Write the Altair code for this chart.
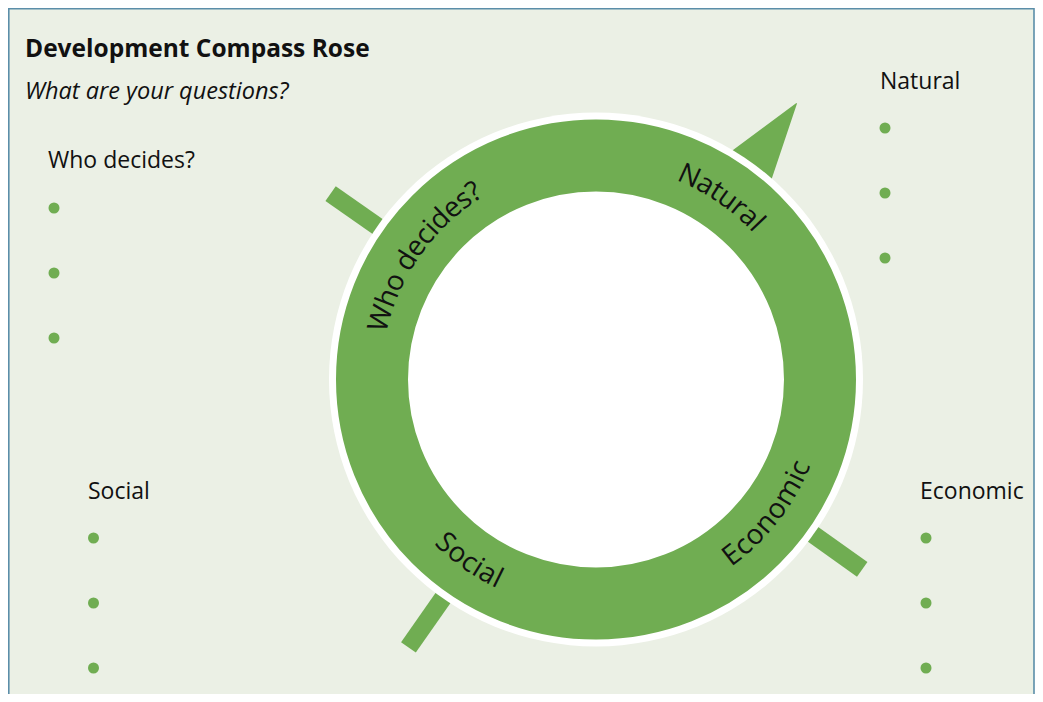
import math
import altair as alt
import pandas as pd

# ---------------- data ----------------
TITLE = "Development Compass Rose"
SUBTITLE = "What are your questions?"

DIRECTIONS = ["Natural", "Economic", "Social", "Who decides?"]
POINTER_BEARING = [36, 125.5, 215, 305]          # compass bearing of each pointer (deg)
POINTER_KIND = ["arrow", "bar", "bar", "bar"]
POINTER_REACH = [341, 327, 327, 324]              # outer end of pointer (px from centre)

RING_LABEL_BEARING = [34.5, 128, 215, 305.5]      # centre bearing of curved labels
RING_LABEL_DIR = ["cw", "ccw", "ccw", "cw"]      # reading direction along the ring

LIST_LABEL_X = [880, 920, 88, 48]
LIST_LABEL_Y = [89, 499, 499, 168]
BULLET_X = [885, 926, 93.5, 54]
BULLET_Y0 = [128, 538, 538, 208]
BULLETS_PER_LIST = 3
BULLET_GAP = 65

# ---------------- layout / style ----------------
W, H = 1027, 686
CX, CY = 596, 379.5
R_WHITE, R_OUT, R_IN = 267, 260, 188
R_TEXT = 223
GREEN = "#70ad52"
BG = "#ebf0e5"
BORDER = "#5b8ea9"
INK = "#111111"
FONT = "Open Sans"
RING_FS = 28
LABEL_FS = 23

# Open Sans advance widths (em)
ADV = {" ": 0.26, "?": 0.429, "C": 0.633, "E": 0.556, "N": 0.75, "S": 0.549,
       "W": 0.93, "a": 0.556, "c": 0.479, "d": 0.613, "e": 0.561, "h": 0.614,
       "i": 0.253, "l": 0.253, "m": 0.93, "n": 0.614, "o": 0.604, "r": 0.408,
       "s": 0.477, "t": 0.353, "u": 0.614}


def polar(r, bearing):
    a = math.radians(bearing)
    return CX + r * math.sin(a), CY - r * math.cos(a)


xs = alt.Scale(domain=[8, 8 + W], nice=False, zero=False)
ys = alt.Scale(domain=[8 + H, 8], nice=False, zero=False)


def X(f="x"):
    return alt.X(f"{f}:Q", scale=xs, axis=None)


def Y(f="y"):
    return alt.Y(f"{f}:Q", scale=ys, axis=None)


# frame (right edge kept just inside the drawable area)
frame_df = pd.DataFrame({"x": [8.8], "x2": [8 + W - 1.0], "y": [8.8], "y2": [740]})
frame = alt.Chart(frame_df).mark_rect(fill=BG, stroke=BORDER, strokeWidth=1.6).encode(
    x=X(), x2="x2:Q", y=Y(), y2="y2:Q")

# pointers
bar_rows, trail_rows = [], []
for name, b, kind, reach in zip(DIRECTIONS, POINTER_BEARING, POINTER_KIND, POINTER_REACH):
    if kind == "bar":
        x1, y1 = polar(235, b)
        x2, y2 = polar(reach, b)
        bar_rows.append({"name": name, "x": x1, "y": y1, "x2": x2, "y2": y2})
    else:
        x1, y1 = polar(225, b)
        x2, y2 = polar(reach, b)
        trail_rows.append({"name": name, "x": x1, "y": y1, "w": 74, "o": 0})
        trail_rows.append({"name": name, "x": x2, "y": y2, "w": 0, "o": 1})

bars = alt.Chart(pd.DataFrame(bar_rows)).mark_rule(color=GREEN, strokeWidth=18, strokeCap="butt").encode(
    x=X(), y=Y(), x2="x2:Q", y2="y2:Q")
arrow = alt.Chart(pd.DataFrame(trail_rows)).mark_trail(color=GREEN).encode(
    x=X(), y=Y(), size=alt.Size("w:Q", scale=None, legend=None), order="o:Q")

centre = pd.DataFrame({"x": [CX], "y": [CY]})
white_disc = alt.Chart(centre).mark_point(shape="circle", filled=True, fill="white", opacity=1,
                                          strokeWidth=0, size=(2 * R_WHITE) ** 2).encode(x=X(), y=Y())
rmid = (R_OUT + R_IN) / 2
ring = alt.Chart(centre).mark_point(shape="circle", filled=False, stroke=GREEN, opacity=1,
                                    strokeWidth=R_OUT - R_IN, size=(2 * rmid) ** 2).encode(x=X(), y=Y())

# curved ring labels, one glyph at a time
chars = []
for word, c_b, d in zip(DIRECTIONS, RING_LABEL_BEARING, RING_LABEL_DIR):
    widths = [ADV.get(ch, 0.55) * RING_FS for ch in word]
    total = sum(widths)
    cum = 0
    for ch, w in zip(word, widths):
        off = math.degrees((cum + w / 2 - total / 2) / R_TEXT)
        cum += w
        if d == "cw":
            b = c_b + off
            ang = b % 360
        else:
            b = c_b - off
            ang = (b - 180) % 360
        x, y = polar(R_TEXT, b)
        chars.append({"ch": ch, "x": x, "y": y, "ang": ang})
ring_text = alt.Chart(pd.DataFrame(chars)).mark_text(
    font=FONT, fontSize=RING_FS, color=INK, align="center", baseline="middle").encode(
    x=X(), y=Y(), text="ch:N", angle=alt.Angle("ang:Q", scale=None))

# list labels & bullets
lab_df = pd.DataFrame({"t": DIRECTIONS, "x": LIST_LABEL_X, "y": LIST_LABEL_Y})
labels = alt.Chart(lab_df).mark_text(font=FONT, fontSize=LABEL_FS, color=INK, align="left",
                                     baseline="alphabetic").encode(x=X(), y=Y(), text="t:N")
brows = []
for name, bx, by in zip(DIRECTIONS, BULLET_X, BULLET_Y0):
    for i in range(BULLETS_PER_LIST):
        brows.append({"name": name, "x": bx, "y": by + i * BULLET_GAP})
bullets = alt.Chart(pd.DataFrame(brows)).mark_circle(color=GREEN, opacity=1, size=121).encode(x=X(), y=Y())

# titles
t_df = pd.DataFrame({"t": [TITLE], "x": [25], "y": [57]})
title = alt.Chart(t_df).mark_text(font=FONT, fontSize=24.5, fontWeight="bold", color=INK, align="left",
                                  baseline="alphabetic").encode(x=X(), y=Y(), text="t:N")
s_df = pd.DataFrame({"t": [SUBTITLE], "x": [25], "y": [99]})
subtitle = alt.Chart(s_df).mark_text(font=FONT, fontSize=23.5, fontStyle="italic", color=INK, align="left",
                                     baseline="alphabetic").encode(x=X(), y=Y(), text="t:N")

chart = alt.layer(frame, bars, arrow, white_disc, ring, ring_text, labels, bullets, title, subtitle).properties(
    width=W, height=H, padding=0, autosize=alt.AutoSizeParams(type="none"), background="white"
).configure_view(stroke=None)

chart.save("out.html", embed_options={"renderer": "svg", "actions": False})
